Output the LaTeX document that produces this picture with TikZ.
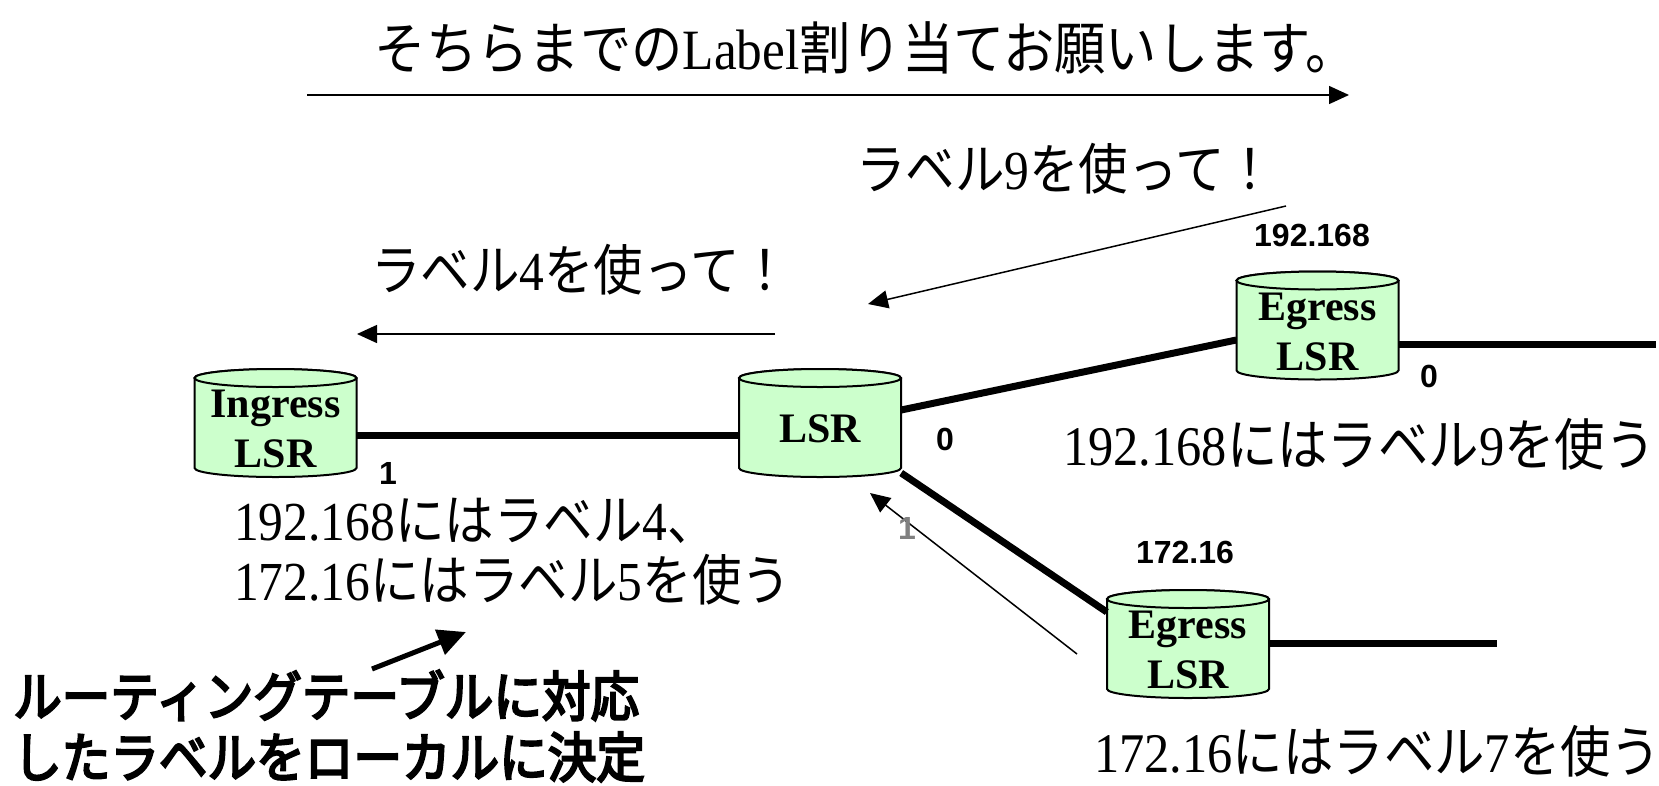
\documentclass[tikz,border=0pt]{standalone}
\usepackage{fontspec}
\setmainfont{Liberation Serif}
\newfontfamily\tmsn{Liberation Serif}[FakeStretch=0.9]
\newfontfamily\jp{Noto Sans CJK JP}[FakeStretch=0.9]
\newfontfamily\jpb{Noto Sans CJK JP}[FakeStretch=0.9,FakeBold=4]
\newfontfamily\arl{Liberation Sans}
\usetikzlibrary{arrows.meta,calc}
\definecolor{cylgreen}{HTML}{CCFFCC}
\newcommand\J[1]{{\jp #1}}
\tikzset{
 cylline/.style={draw=black,line width=2pt,fill=cylgreen},
 cylbox/.style={rectangle,inner sep=0pt,minimum width=162pt,minimum height=108pt},
 cyltext/.style={inner sep=0pt,align=center,font=\fontsize{42}{50}\selectfont\bfseries},
 linkline/.style={line width=7pt},
 msgarrow/.style={line width=1.5pt,-{Triangle[length=20pt,width=18pt]}},
 bigarrow/.style={line width=5pt,-{Triangle[length=28pt,width=26pt]}},
 jtext/.style={inner sep=0pt,anchor=west,align=left,font=\tmsn\fontsize{55}{60}\selectfont},
 portlbl/.style={inner sep=0pt,font=\arl\bfseries\fontsize{32}{34}\selectfont},
 pfxlbl/.style={inner sep=0pt,font=\arl\bfseries\fontsize{32}{34}\selectfont},
}
\newcommand\cyl[4]{%
 \path[cylline] (#2-81,#3-45) -- (#2-81,#3+45) arc[start angle=180,end angle=360,x radius=81pt,y radius=9pt] -- (#2+81,#3-45) arc[start angle=0,end angle=180,x radius=81pt,y radius=9pt] -- cycle;
 \path[cylline] (#2,#3-45) ellipse[x radius=81pt,y radius=9pt];
 \node[cylbox] (#1) at (#2,#3) {};
 \node[cyltext] (#1t) at (#2,#3+6) {#4};
}
\begin{document}
\begin{tikzpicture}[x=1pt,y=-1pt]
\useasboundingbox (0,0) rectangle (1659,785);
% cylinders
\cyl{ing}{275.5}{423}{Ingress\\LSR}
\cyl{lsr}{820}{423}{LSR}
\cyl{eg1}{1317.5}{325.5}{Egress\\LSR}
\cyl{eg2}{1188}{644}{Egress\\LSR}
% coordinates
\coordinate (e1end) at (1656,344);
\coordinate (e2end) at (1497,643);
\coordinate (a0s) at (307,95);
\coordinate (a0e) at (1349,95);
\coordinate (a9s) at (1286,206);
\coordinate (a9e) at (868,304);
\coordinate (a4s) at (775,334);
\coordinate (a4e) at (357,334);
\coordinate (a1s) at (1077,654);
\coordinate (a1e) at (870,493);
\coordinate (bas) at (372,669);
\coordinate (bae) at (466,632);
% links
\draw[linkline] ([yshift=-12pt]ing.east) -- ([yshift=-12pt]lsr.west);
\draw[linkline] ([yshift=13pt]lsr.east) -- ([yshift=-14.5pt]eg1.west);
\draw[linkline] ([yshift=-50pt]lsr.east) -- ([yshift=32pt]eg2.west);
\draw[linkline] ([yshift=-18.5pt]eg1.east) -- (e1end);
\draw[linkline] ([yshift=1pt]eg2.east) -- (e2end);
% message arrows
\draw[msgarrow] (a0s) -- (a0e);
\draw[msgarrow] (a9s) -- (a9e);
\draw[msgarrow] (a4s) -- (a4e);
\draw[msgarrow] (a1s) -- (a1e);
\draw[bigarrow] (bas) -- (bae);
% texts
\node[jtext,anchor=center,font=\tmsn\fontsize{57}{62}\selectfont] (ttop) at (866,48) {\J{そちらまでの}Label\J{割り当てお願いします。}};
\node[jtext] (tl9) at (856,169) {\J{ラベル}9\J{を使って！}};
\node[jtext] (tl4) at (371,270) {\J{ラベル}4\J{を使って！}};
\node[jtext] (tip) at (234,552) {192.168\J{にはラベル}4\J{、}\\172.16\J{にはラベル}5\J{を使う}};
\node[jtext,font=\tmsn\fontsize{56}{60}\selectfont] (t9) at (1063,444) {192.168\J{にはラベル}9\J{を使う}};
\node[jtext,font=\tmsn\fontsize{56}{60}\selectfont] (t7) at (1094,751) {172.16\J{にはラベル}7\J{を使う}};
\node[jtext,font=\jpb\fontsize{54}{61}\selectfont] (trout) at (13,726) {ルーティングテーブルに対応\\したラベルをローカルに決定};
% prefixes and ports
\node[pfxlbl] (p1) at (1312,235) {192.168};
\node[pfxlbl] (p2) at (1185,552) {172.16};
\node[portlbl] (q1) at (388,473) {1};
\node[portlbl] (q2) at (945,439) {0};
\node[portlbl] (q3) at (1429,376) {0};
\node[portlbl,text=gray] (q4) at (907,528) {1};
\end{tikzpicture}
\end{document}
